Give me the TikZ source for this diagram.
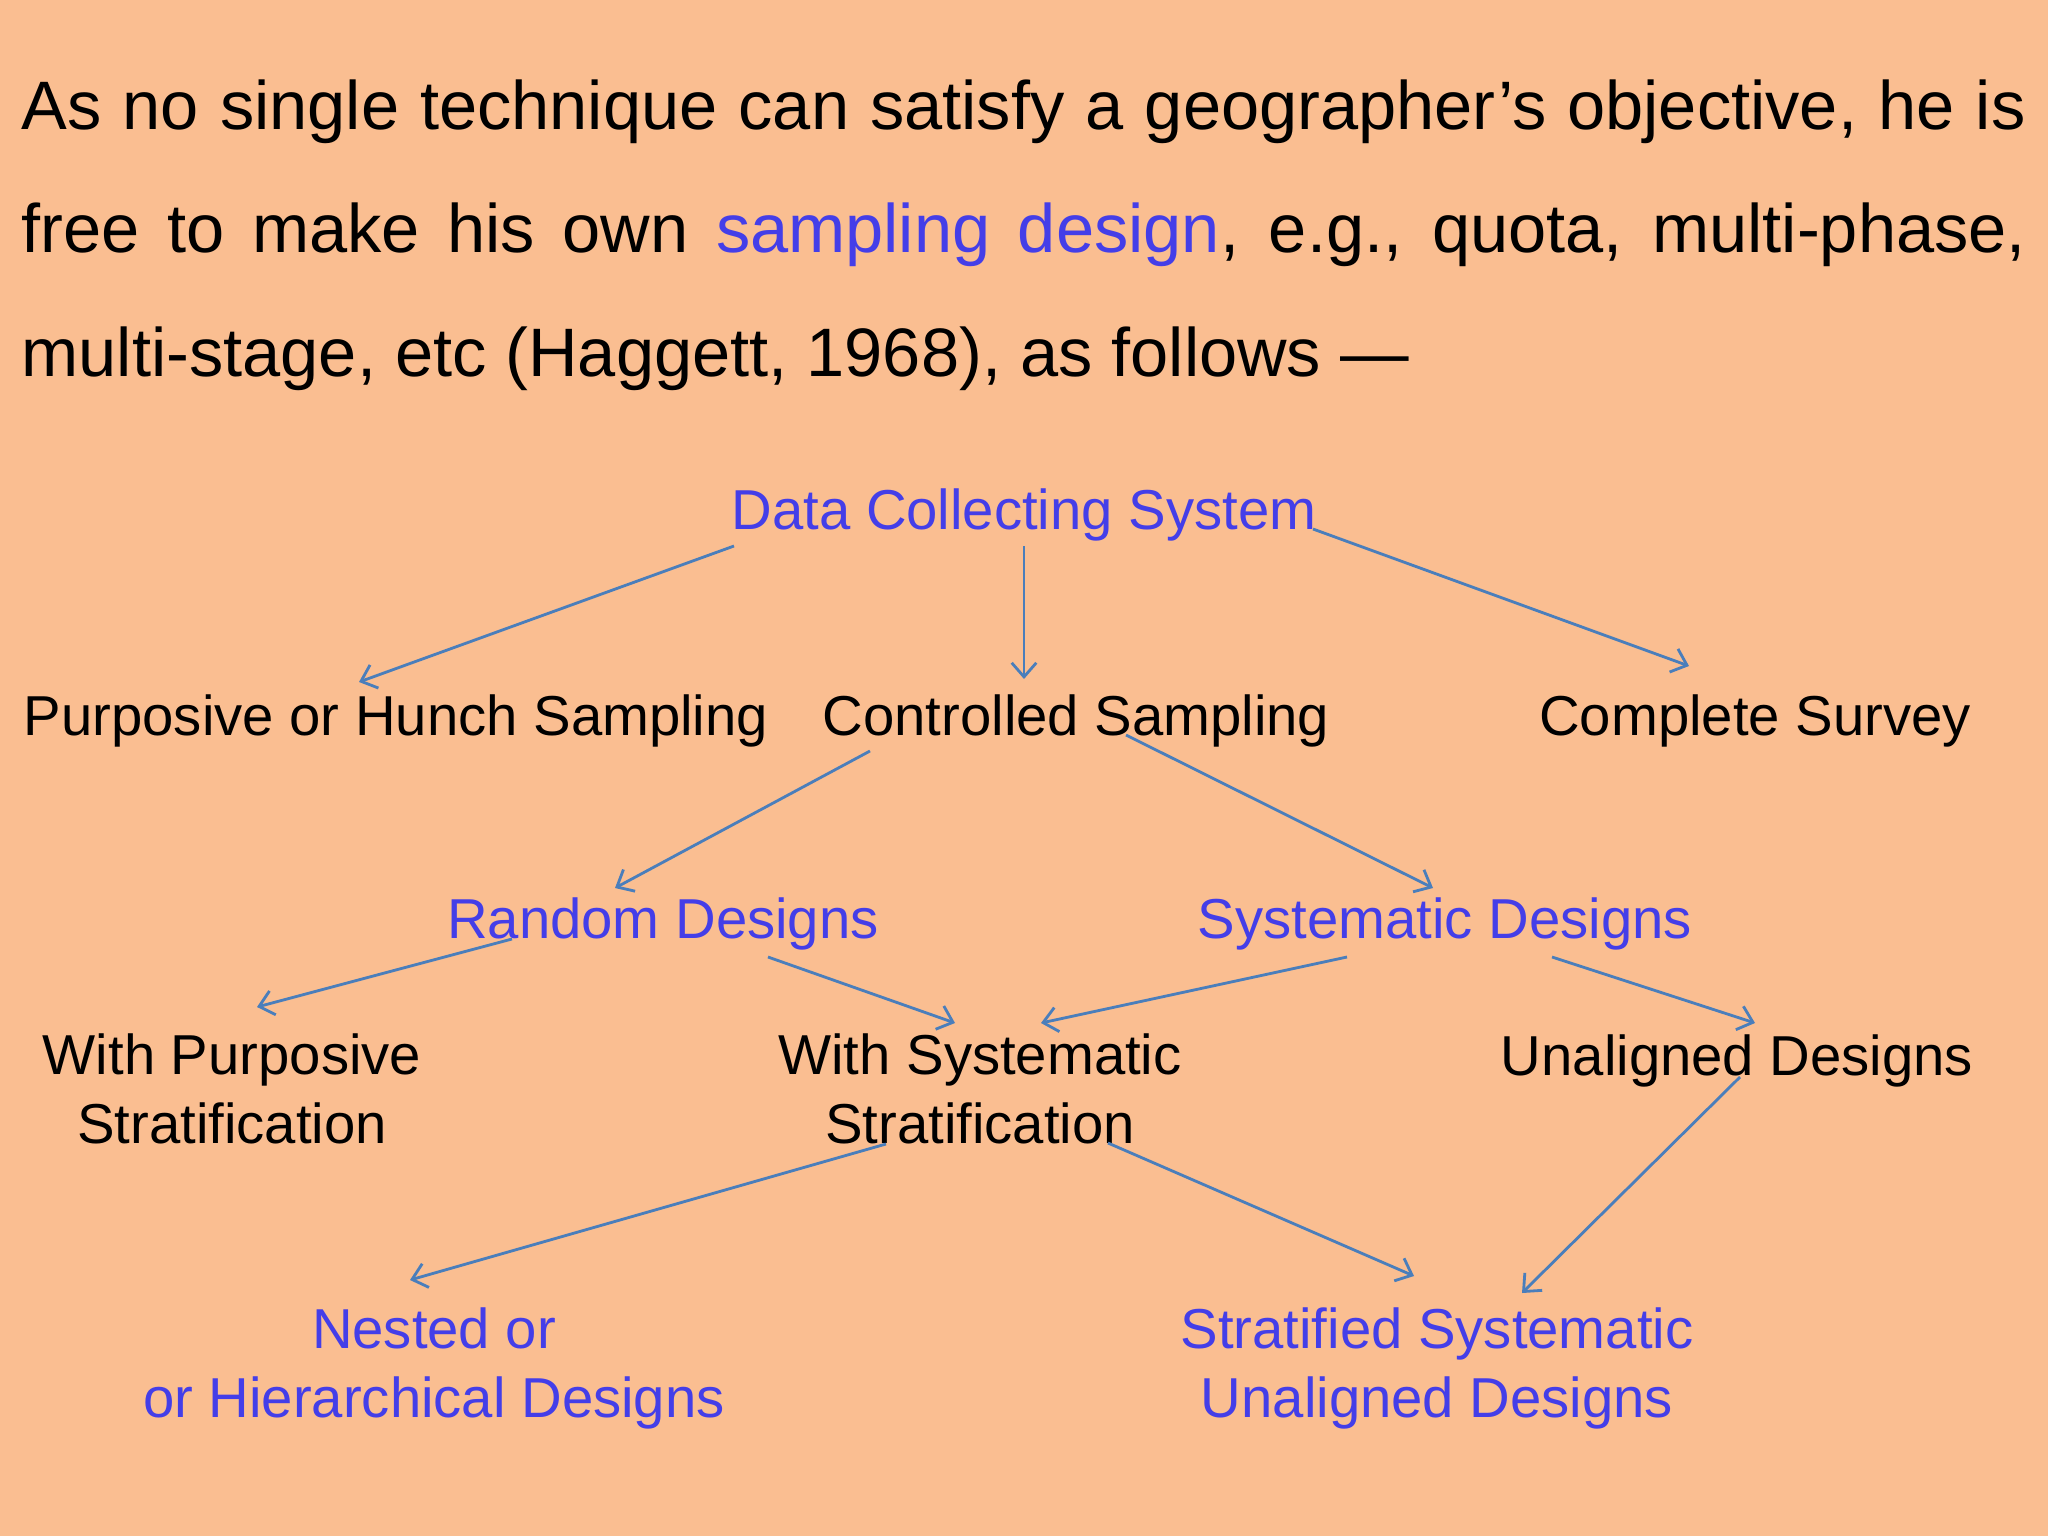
\documentclass[tikz,border=0pt]{standalone}
\usepackage{fontspec}
\setmainfont{Liberation Sans}
\usetikzlibrary{arrows.meta}
\definecolor{bgc}{RGB}{250,190,145}
\definecolor{bluetxt}{RGB}{68,62,232}
\definecolor{arrc}{RGB}{74,126,187}
\tikzset{
  lab/.style={anchor=base, inner sep=0pt, font=\fontsize{16}{19.4}\selectfont, align=center},
  blab/.style={lab, text=bluetxt},
  klab/.style={lab, text=black},
  arr/.style={draw=arrc, line width=0.8pt, -{Straight Barb[length=4pt,width=7pt]}}
}
\begin{document}
\begin{tikzpicture}[x=0.01cm,y=-0.01cm]
\fill[bgc] (0,0) rectangle (2048,1536);
\useasboundingbox (0,0) rectangle (2048,1536);
% paragraph (base = last line baseline)
\node[anchor=base west, inner sep=0pt, align=left, font=\fontsize{19.5}{35}\selectfont] (para) at (21,376)
{\makebox[20.03cm][s]{As no single technique can satisfy a geographer’s objective, he is}\\
\makebox[20.03cm][s]{free to make his own \textcolor{bluetxt}{sampling design}, e.g., quota, multi-phase,}\\
multi-stage, etc (Haggett, 1968), as follows —};
% nodes
\node[blab] (dcs) at (1024,529) {Data Collecting System};
\node[klab] (phs) at (396,735) {Purposive or Hunch Sampling};
\node[klab] (cs) at (1076,735) {Controlled Sampling};
\node[klab] (comp) at (1755,735) {Complete Survey};
\node[blab] (rd) at (663,938) {Random Designs};
\node[blab] (sd) at (1445,938) {Systematic Designs};
\node[klab] (wps) at (232,1143) {With Purposive\\ Stratification};
\node[klab] (wss) at (980,1143) {With Systematic\\ Stratification};
\node[klab] (ud) at (1737,1075) {Unaligned Designs};
\node[blab] (nh) at (434,1417) {Nested or\\ or Hierarchical Designs};
\node[blab] (ssu) at (1437,1417) {Stratified Systematic\\ Unaligned Designs};
% connectors
\draw[arr] ([shift={(-290,17)}]dcs.base) -- ([shift={(-37,-53)}]phs.base);
\draw[arr] ([shift={(0,17)}]dcs.base) -- ([shift={(-52,-56)}]cs.base);
\draw[arr] ([shift={(289,0)}]dcs.base) -- ([shift={(-66,-69)}]comp.base);
\draw[arr] ([shift={(-206,16)}]cs.base) -- ([shift={(-48,-50)}]rd.base);
\draw[arr] ([shift={(50,0)}]cs.base) -- ([shift={(-12,-50)}]sd.base);
\draw[arr] ([shift={(-151,1)}]rd.base) -- ([shift={(25,-136)}]wps.base);
\draw[arr] ([shift={(105,19)}]rd.base) -- ([shift={(-25,-120)}]wss.base);
\draw[arr] ([shift={(-98,19)}]sd.base) -- ([shift={(61,-120)}]wss.base);
\draw[arr] ([shift={(107,19)}]sd.base) -- ([shift={(18,-52)}]ud.base);
\draw[arr] ([shift={(-94,1)}]wss.base) -- ([shift={(-24,-137)}]nh.base);
\draw[arr] ([shift={(128,0)}]wss.base) -- ([shift={(-23,-141)}]ssu.base);
\draw[arr] ([shift={(3,2)}]ud.base) -- ([shift={(85,-124)}]ssu.base);
\end{tikzpicture}
\end{document}
